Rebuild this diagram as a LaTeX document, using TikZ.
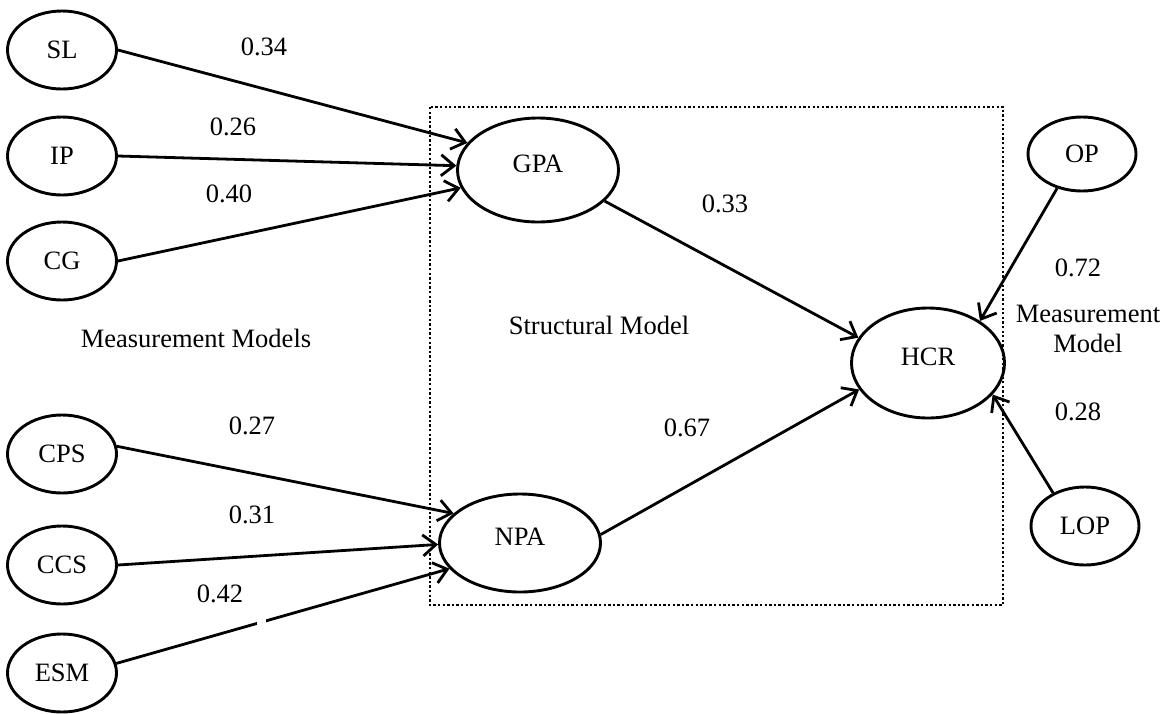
\documentclass[tikz,border=0pt]{standalone}
\usepackage{fontspec}
\setmainfont{Liberation Serif}
\usetikzlibrary{arrows.meta,shapes.geometric}

\tikzset{
  txt/.style={font=\fontsize{26.5}{30}\selectfont, inner sep=0pt},
  indicator/.style={ellipse, draw, line width=2.9pt, inner sep=0pt,
    minimum width=109pt, minimum height=78pt, txt},
  latent/.style={ellipse, draw, line width=2.9pt, inner sep=0pt,
    text height=18pt, text depth=14pt, txt},
  path/.style={line width=2.8pt, -{Straight Barb[length=13pt,width=21pt]}},
  frame/.style={line width=2.6pt, dash pattern=on 2.3pt off 2.3pt},
  coef/.style={txt},
}

\begin{document}
\begin{tikzpicture}[x=1pt,y=-1pt]
\useasboundingbox (0,0) rectangle (1165,713);

% structural part
\draw[frame] (430,107) rectangle (1003,605);

% exogenous indicators
\node[indicator] (SL)  at (62,50)  {SL};
\node[indicator] (IP)  at (62,156) {IP};
\node[indicator] (CG)  at (62,261) {CG};
\node[indicator] (CPS) at (62,454) {CPS};
\node[indicator] (CCS) at (62,565) {CCS};
\node[indicator] (ESM) at (62,673) {ESM};

% endogenous indicators
\node[indicator, minimum width=108pt, minimum height=74pt] (OP)  at (1082,154) {OP};
\node[indicator, minimum width=108pt, minimum height=78pt] (LOP) at (1085,526) {LOP};

% latent constructs
\node[latent, minimum width=161pt, minimum height=104pt] (GPA) at (538,170) {GPA};
\node[latent, minimum width=161pt, minimum height=98pt]  (NPA) at (520,543) {NPA};
\node[latent, minimum width=153pt, minimum height=110pt] (HCR) at (928,363) {HCR};

% paths
\draw[path] (SL.east)  -- (GPA.159);
\draw[path] (IP.east)  -- (GPA.177);
\draw[path] (CG.east)  -- (GPA.193);
\draw[path] (CPS.8)    -- (NPA.156);
\draw[path] (CCS.east) -- (NPA.181);
\draw[path] (ESM.10)   -- (NPA.200);
\draw[path] (GPA.-25)  -- (HCR.160);
\draw[path] (NPA.6)    -- (HCR.201);
\draw[path] (OP.234)   -- (HCR.39);
\draw[path] (LOP.134)  -- (HCR.-26);

% small break in the ESM path
\fill[white] (257,617) rectangle (266,629);

% coefficients
\node[coef] (c34) at (264,47)  {0.34};
\node[coef] (c26) at (233,127) {0.26};
\node[coef] (c40) at (229,194) {0.40};
\node[coef] (c27) at (252,426) {0.27};
\node[coef] (c31) at (252,515) {0.31};
\node[coef] (c42) at (220,594) {0.42};
\node[coef] (c33) at (725,204) {0.33};
\node[coef] (c67) at (687,428) {0.67};
\node[coef] (c72) at (1078,268) {0.72};
\node[coef] (c28) at (1078,412) {0.28};

% captions
\node[txt] (mm)  at (196,338) {Measurement Models};
\node[txt] (sm)  at (599,325) {Structural Model};
\node[txt, align=center] (mm2) at (1088,329) {Measurement\\Model};
\end{tikzpicture}
\end{document}
